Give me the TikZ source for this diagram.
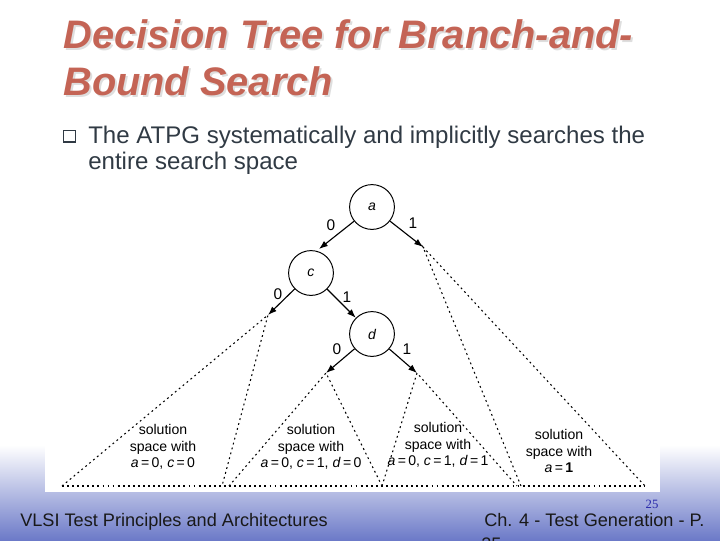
\documentclass[tikz,border=0pt]{standalone}
\usepackage{fontspec}
\setmainfont{Liberation Sans}
\newfontfamily\pagenumfont{Liberation Serif}
\usetikzlibrary{arrows.meta}

\definecolor{titlered}{RGB}{196,100,85}
\definecolor{titleshade}{RGB}{222,222,222}
\definecolor{bodygray}{RGB}{48,58,68}
\definecolor{footerblue}{RGB}{108,122,200}
\definecolor{pagenumblue}{RGB}{40,40,170}

\begin{document}
\begin{tikzpicture}[
      x=0.025cm,
      y=-0.025cm,
      titletext/.style={font=\fontsize{28.3}{34}\selectfont\bfseries\itshape, text=titlered, anchor=base west, inner sep=0pt},
      titleshadow/.style={titletext, text=titleshade},
      bodytext/.style={font=\fontsize{17.1}{21}\selectfont, text=bodygray, anchor=base west, inner sep=0pt},
      footertext/.style={font=\fontsize{12.9}{15}\selectfont, text=black!90, anchor=base west, inner sep=0pt},
      decision/.style={
        draw,
        circle,
        minimum size=1.12cm,
        inner sep=0pt,
        line width=0.7pt,
        font=\fontsize{10}{12}\selectfont\itshape
      },
      branch/.style={
        -{Latex[length=2.2mm,width=1.6mm]},
        line width=0.8pt
      },
      bitlabel/.style={font=\fontsize{11}{13}\selectfont, inner sep=0pt},
      space/.style={dash pattern=on 1.3pt off 2.3pt, line width=0.75pt},
      spacelabel/.style={font=\fontsize{10}{11.8}\selectfont, align=center, inner sep=0pt}
    ]
    \useasboundingbox (0,0) rectangle (720,540);
    \clip (0,0) rectangle (720,540);

    % footer band and picture frame
    \shade[top color=white, bottom color=footerblue] (0,445) rectangle (720,540);
    \fill[white] (45,185) rectangle (660,492);

    % title
    \node[titleshadow] (title1s) at (65,50) {Decision Tree for Branch-and-};
    \node[titleshadow] (title2s) at (65,97) {Bound Search};
    \node[titletext] (title1) at (63,48) {Decision Tree for Branch-and-};
    \node[titletext] (title2) at (63,95) {Bound Search};

    % bullet
    \node[draw=bodygray, line width=0.6pt, minimum size=0.3cm, inner sep=0pt] (bullet) at (69,136) {};
    \fill[bodygray] (bullet.south west) rectangle ([yshift=1.3pt]bullet.south east);
    \node[bodytext] (line1) at (88,143) {The ATPG systematically and implicitly searches the};
    \node[bodytext] (line2) at (88,169) {entire search space};

    % decision nodes
    \node[decision] (a) at (372,207) {a};
    \node[decision] (c) at (311,273) {c};
    \node[decision] (d) at (372,334) {d};

    \coordinate (a0) at (319,249);
    \coordinate (a1) at (423,247);
    \coordinate (c0) at (268,315);
    \coordinate (d0) at (326,373);
    \coordinate (d1) at (417,373);

    \draw[branch] (a) -- (a0);
    \draw[branch] (a) -- (a1);
    \draw[branch] (c) -- (c0);
    \draw[branch] (c) -- (d);
    \draw[branch] (d) -- (d0);
    \draw[branch] (d) -- (d1);

    \node[bitlabel] (la0) at (331,225) {0};
    \node[bitlabel] (la1) at (413,223) {1};
    \node[bitlabel] (lc0) at (278,294) {0};
    \node[bitlabel] (lc1) at (347,297) {1};
    \node[bitlabel] (ld0) at (337,349) {0};
    \node[bitlabel] (ld1) at (407,349) {1};

    % solution spaces
    \coordinate (b1) at (62,486);
    \coordinate (b2) at (222,486);
    \coordinate (b3) at (229,486);
    \coordinate (b4) at (382,486);
    \coordinate (b5) at (517,486);
    \coordinate (b6) at (521,486);
    \coordinate (b7) at (645,486);

    \draw[space] (b1) -- (c0) -- (b2);
    \draw[space] (b3) -- (d0) -- (b4);
    \draw[space] (b4) -- (d1) -- (b5);
    \draw[space] (b6) -- (a1) -- (b7);
    \draw[space] (b1) -- (b7);

    \node[spacelabel] (s1) at (163,447) {solution\\space with\\\textit{a}\,=\,0, \textit{c}\,=\,0};
    \node[spacelabel] (s2) at (311,447) {solution\\space with\\\textit{a}\,=\,0, \textit{c}\,=\,1, \textit{d}\,=\,0};
    \node[spacelabel] (s3) at (438,445) {solution\\space with\\\textit{a}\,=\,0, \textit{c}\,=\,1, \textit{d}\,=\,1};
    \node[spacelabel] (s4) at (559,451) {solution\\space with\\\textit{a}\,=\,\textbf{1}};

    % footer
    \node[footertext] (course) at (20,526) {VLSI Test Principles and Architectures};
    \node[footertext] (chapter) at (484,526) {Ch. 4 - Test Generation - P.};
    \node[font=\pagenumfont\fontsize{9}{10}\selectfont, text=pagenumblue, inner sep=0pt] (pnum) at (652,504) {25};
    \node[footertext] (pwrap) at (481,550) {25};
  \end{tikzpicture}
\end{document}
